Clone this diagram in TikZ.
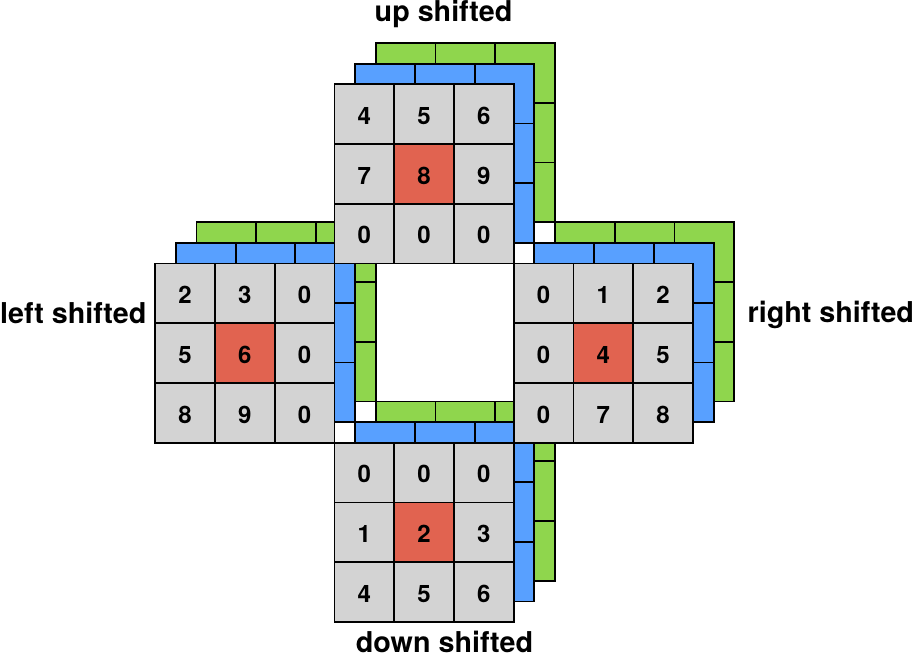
\documentclass[tikz,border=0pt]{standalone}
\usepackage{fontspec}
\setmainfont{TeX Gyre Heros}
\definecolor{cellgray}{RGB}{211,211,211}
\definecolor{cellred}{RGB}{225,99,80}
\definecolor{layblue}{RGB}{88,160,255}
\definecolor{laygreen}{RGB}{143,214,77}
\tikzstyle{cell} = [rectangle, minimum width = 59.75pt, minimum height = 59.75pt, inner sep = 0pt, text centered, text height = 20.5pt, text depth = 0pt, draw = black, line width = 1.8pt, font = \fontsize{24}{24}\selectfont\bfseries]
\tikzstyle{stacktitle} = [inner sep = 0pt, font = \fontsize{28.7}{29}\selectfont\bfseries]

\begin{document}
\begin{tikzpicture}[x=1pt, y=-1pt]
	\useasboundingbox (0,0) rectangle (913,657);
	% one stack per shift: green, blue, then the front grid
	\foreach \grp/\gx/\gy/\vals in {left/155.25/263.5/{2,3,0,5,6,0,8,9,0}, up/334.5/84.25/{4,5,6,7,8,9,0,0,0}, down/334.5/442.75/{0,0,0,1,2,3,4,5,6}, right/513.75/263.5/{0,1,2,0,4,5,0,7,8}} {
		\foreach \k/\col in {2/laygreen, 1/layblue}
			\foreach \r in {0,1,2}
				\foreach \c in {0,1,2}
					\node (\grp-\k-\r-\c) [cell, fill=\col] at (\gx+\k*20.6+\c*59.75+29.875, \gy-\k*20.6+\r*59.75+29.875) {};
		\foreach \v [count=\i from 0] in \vals {
			\pgfmathtruncatemacro{\r}{\i/3}
			\pgfmathtruncatemacro{\c}{mod(\i,3)}
			\ifnum\i=4 \def\fc{cellred}\else\def\fc{cellgray}\fi
			\node (\grp-0-\r-\c) [cell, fill=\fc] at (\gx+\c*59.75+29.875, \gy+\r*59.75+29.875) {\v};
		}
	}
	\node (upT) [stacktitle, anchor=base] at (443.5,21) {up shifted};
	\node (leftT) [stacktitle, anchor=base west] at (0,323) {left shifted};
	\node (rightT) [stacktitle, anchor=base west] at (747.5,322) {right shifted};
	\node (downT) [stacktitle, anchor=base] at (444.5,652.5) {down shifted};
\end{tikzpicture}
\end{document}
